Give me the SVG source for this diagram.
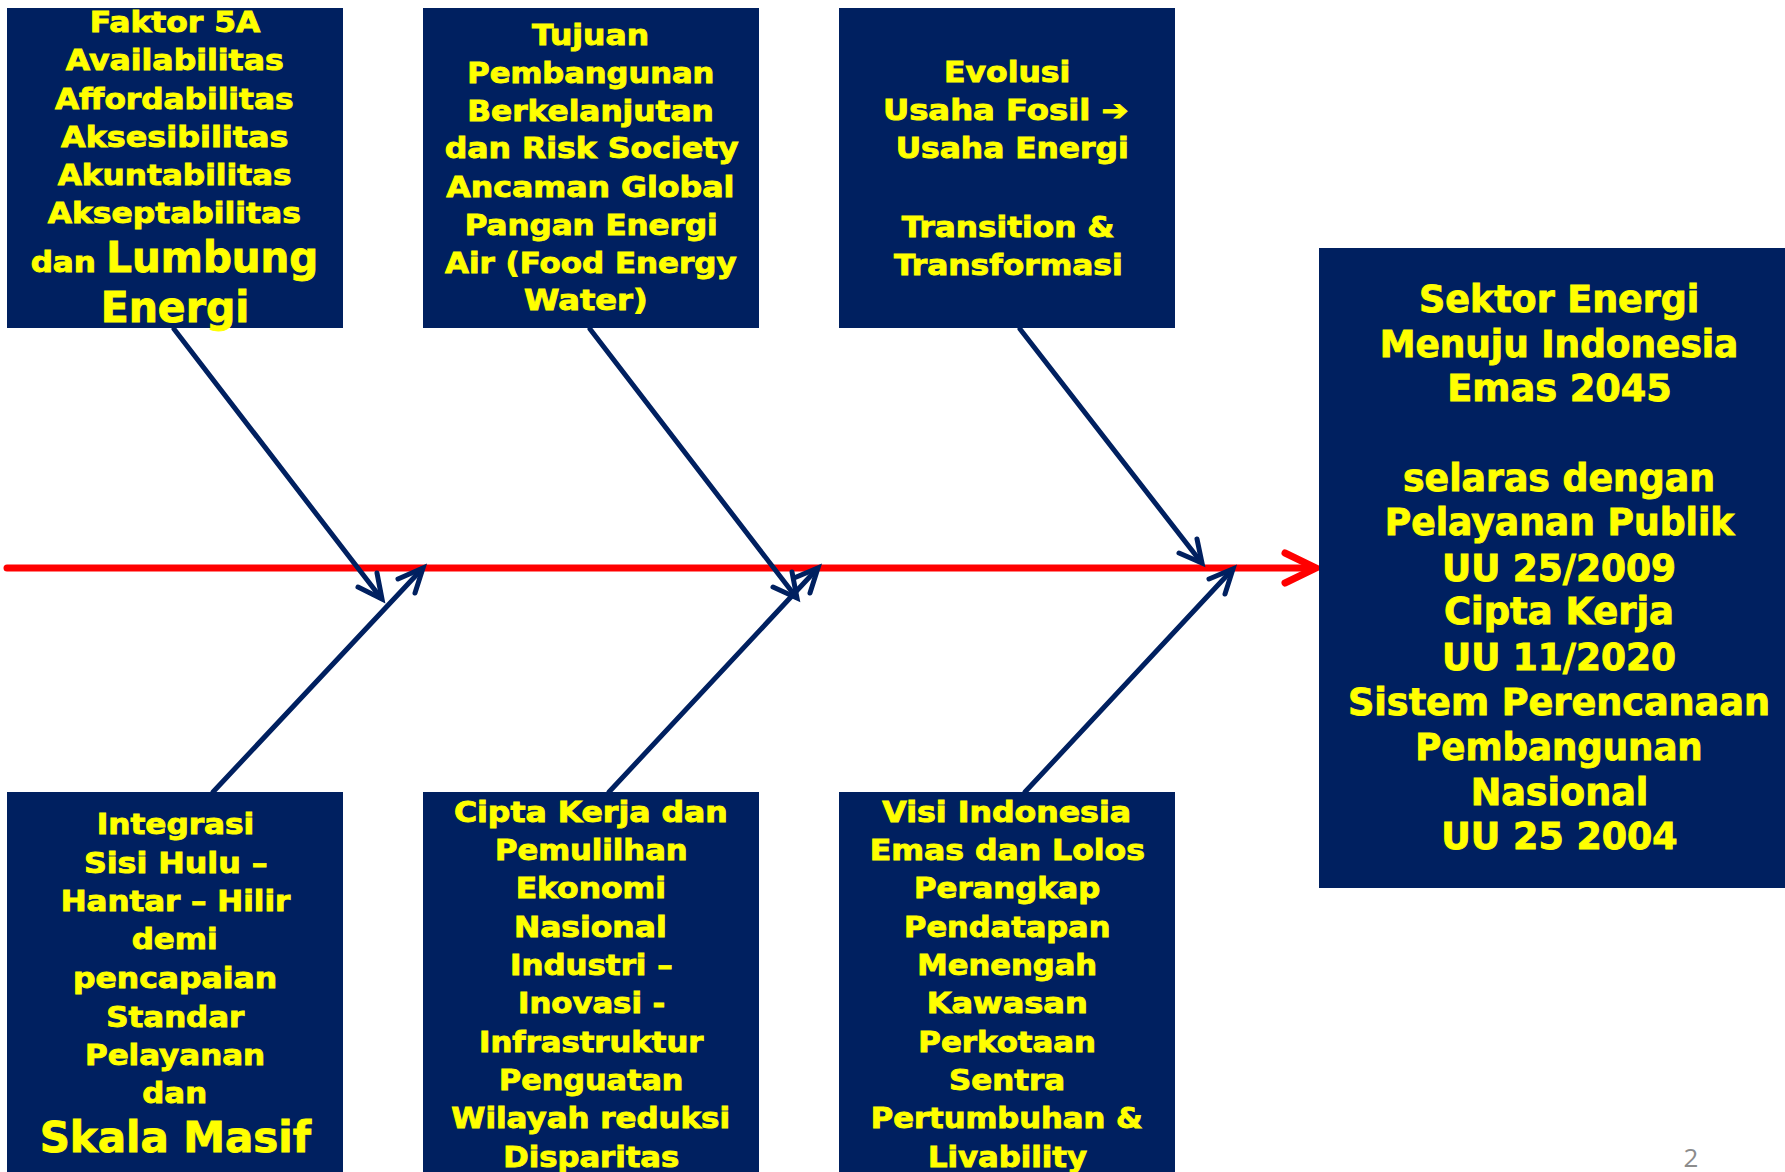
<svg xmlns="http://www.w3.org/2000/svg" width="1785" height="1172" viewBox="0 0 1785 1172">
<style>
.box{fill:#002060}
text{font-family:"DejaVu Sans","Liberation Sans",sans-serif;font-weight:bold;fill:#FFFF00;stroke:#FFFF00;stroke-width:0.9;text-anchor:middle}
.s{font-size:28.5px}
.b{font-size:43px}
.m{font-size:37px}
.blue{stroke:#002060;stroke-width:5;fill:none;stroke-linecap:round;stroke-linejoin:miter}
.red{stroke:#FF0000;stroke-width:7;fill:none;stroke-linecap:round}
.pg{font-family:"Open Sans","Liberation Sans",sans-serif;font-weight:normal;font-size:26px;fill:#8C8C8C;stroke:none}
</style>
<rect width="1785" height="1172" fill="#FFFFFF"/>
<g id="connectors">
<line class="red" x1="7" y1="568" x2="1314" y2="568" stroke-linecap="butt"/>
<polyline class="red" points="1285,553 1316,568 1285,583" stroke-linejoin="miter"/>
<line class="blue" x1="174" y1="329" x2="381" y2="598"/>
<polyline class="blue" points="358,587 382,599 377,573"/>
<line class="blue" x1="590" y1="329" x2="796" y2="597"/>
<polyline class="blue" points="773,587 797,598 792,572"/>
<line class="blue" x1="1020" y1="329" x2="1201" y2="562"/>
<polyline class="blue" points="1179,553 1202,563 1197,539"/>
<line class="blue" x1="213" y1="792" x2="422" y2="569"/>
<polyline class="blue" points="398,579 423,568 415,593"/>
<line class="blue" x1="609" y1="792" x2="817" y2="569"/>
<polyline class="blue" points="794,578 818,568 810,593"/>
<line class="blue" x1="1025" y1="792" x2="1232" y2="570"/>
<polyline class="blue" points="1209,579 1233,569 1225,594"/>
</g>
<g id="node-faktor5a">
<rect class="box" x="7" y="8" width="336" height="320"/>
<text class="s" x="175" y="32.3" textLength="170.6" lengthAdjust="spacingAndGlyphs">Faktor 5A</text>
<text class="s" x="174.7" y="70" textLength="218" lengthAdjust="spacingAndGlyphs">Availabilitas</text>
<text class="s" x="174.3" y="109" textLength="238.7" lengthAdjust="spacingAndGlyphs">Affordabilitas</text>
<text class="s" x="174.7" y="146.7" textLength="227.3" lengthAdjust="spacingAndGlyphs">Aksesibilitas</text>
<text class="s" x="174.7" y="185" textLength="234" lengthAdjust="spacingAndGlyphs">Akuntabilitas</text>
<text class="s" x="174.3" y="223.3" textLength="253.3" lengthAdjust="spacingAndGlyphs">Akseptabilitas</text>
<text class="s" x="63.3" y="271.7" textLength="65.3" lengthAdjust="spacingAndGlyphs">dan</text>
<text class="b" x="212.3" y="271.7" textLength="212" lengthAdjust="spacingAndGlyphs">Lumbung</text>
<text class="b" x="175" y="321.7" textLength="148.6" lengthAdjust="spacingAndGlyphs">Energi</text>
</g>
<g id="node-tujuan">
<rect class="box" x="423" y="8" width="336" height="320"/>
<text class="s" x="590.5" y="45" textLength="117" lengthAdjust="spacingAndGlyphs">Tujuan</text>
<text class="s" x="590.8" y="82.7" textLength="247" lengthAdjust="spacingAndGlyphs">Pembangunan</text>
<text class="s" x="590.5" y="120.7" textLength="246.4" lengthAdjust="spacingAndGlyphs">Berkelanjutan</text>
<text class="s" x="591.7" y="158.3" textLength="294" lengthAdjust="spacingAndGlyphs">dan Risk Society</text>
<text class="s" x="590.3" y="196.7" textLength="288" lengthAdjust="spacingAndGlyphs">Ancaman Global</text>
<text class="s" x="591.2" y="235" textLength="253" lengthAdjust="spacingAndGlyphs">Pangan Energi</text>
<text class="s" x="590.8" y="273.3" textLength="291.7" lengthAdjust="spacingAndGlyphs">Air (Food Energy</text>
<text class="s" x="585.8" y="310" textLength="123.7" lengthAdjust="spacingAndGlyphs">Water)</text>
</g>
<g id="node-evolusi">
<rect class="box" x="839" y="8" width="336" height="320"/>
<text class="s" x="1007.2" y="82.3" textLength="126.3" lengthAdjust="spacingAndGlyphs">Evolusi</text>
<text class="s" x="1005.8" y="120" textLength="245.7" lengthAdjust="spacingAndGlyphs">Usaha Fosil ➔</text>
<text class="s" x="1012.2" y="158.3" textLength="233" lengthAdjust="spacingAndGlyphs">Usaha Energi</text>
<text class="s" x="1008" y="236.7" textLength="212.6" lengthAdjust="spacingAndGlyphs">Transition &amp;</text>
<text class="s" x="1008.3" y="275" textLength="228.7" lengthAdjust="spacingAndGlyphs">Transformasi</text>
</g>
<g id="node-sektor-energi">
<rect class="box" x="1319" y="248" width="466" height="640"/>
<text class="m" x="1559.2" y="311.7" textLength="280.3" lengthAdjust="spacingAndGlyphs">Sektor Energi</text>
<text class="m" x="1559" y="357" textLength="358.6" lengthAdjust="spacingAndGlyphs">Menuju Indonesia</text>
<text class="m" x="1559.5" y="401" textLength="224.4" lengthAdjust="spacingAndGlyphs">Emas 2045</text>
<text class="m" x="1559" y="491" textLength="312" lengthAdjust="spacingAndGlyphs">selaras dengan</text>
<text class="m" x="1559.5" y="535.3" textLength="349.6" lengthAdjust="spacingAndGlyphs">Pelayanan Publik</text>
<text class="m" x="1559" y="580.5" textLength="234" lengthAdjust="spacingAndGlyphs">UU 25/2009</text>
<text class="m" x="1559" y="624" textLength="230" lengthAdjust="spacingAndGlyphs">Cipta Kerja</text>
<text class="m" x="1559" y="670" textLength="234" lengthAdjust="spacingAndGlyphs">UU 11/2020</text>
<text class="m" x="1559" y="715" textLength="422" lengthAdjust="spacingAndGlyphs">Sistem Perencanaan</text>
<text class="m" x="1559" y="760" textLength="287.4" lengthAdjust="spacingAndGlyphs">Pembangunan</text>
<text class="m" x="1559.5" y="805" textLength="177.6" lengthAdjust="spacingAndGlyphs">Nasional</text>
<text class="m" x="1559.5" y="849.3" textLength="236.4" lengthAdjust="spacingAndGlyphs">UU 25 2004</text>
</g>
<g id="node-integrasi">
<rect class="box" x="7" y="792" width="336" height="380"/>
<text class="s" x="175.5" y="834.3" textLength="157.6" lengthAdjust="spacingAndGlyphs">Integrasi</text>
<text class="s" x="175.8" y="872.7" textLength="183.7" lengthAdjust="spacingAndGlyphs">Sisi Hulu –</text>
<text class="s" x="175.5" y="911" textLength="229.6" lengthAdjust="spacingAndGlyphs">Hantar – Hilir</text>
<text class="s" x="174.7" y="949.3" textLength="86" lengthAdjust="spacingAndGlyphs">demi</text>
<text class="s" x="175" y="988.3" textLength="204" lengthAdjust="spacingAndGlyphs">pencapaian</text>
<text class="s" x="175.3" y="1026.7" textLength="138" lengthAdjust="spacingAndGlyphs">Standar</text>
<text class="s" x="175" y="1065" textLength="180" lengthAdjust="spacingAndGlyphs">Pelayanan</text>
<text class="s" x="174.7" y="1103.3" textLength="64.7" lengthAdjust="spacingAndGlyphs">dan</text>
<text class="b" x="175.3" y="1151.7" textLength="271.3" lengthAdjust="spacingAndGlyphs">Skala Masif</text>
</g>
<g id="node-cipta-kerja">
<rect class="box" x="423" y="792" width="336" height="380"/>
<text class="s" x="590.8" y="821.7" textLength="273.7" lengthAdjust="spacingAndGlyphs">Cipta Kerja dan</text>
<text class="s" x="591.3" y="860" textLength="192.7" lengthAdjust="spacingAndGlyphs">Pemulilhan</text>
<text class="s" x="590.8" y="898.3" textLength="150.3" lengthAdjust="spacingAndGlyphs">Ekonomi</text>
<text class="s" x="590.3" y="936.7" textLength="152.7" lengthAdjust="spacingAndGlyphs">Nasional</text>
<text class="s" x="591.3" y="975" textLength="162.7" lengthAdjust="spacingAndGlyphs">Industri –</text>
<text class="s" x="591.7" y="1013.3" textLength="147.3" lengthAdjust="spacingAndGlyphs">Inovasi -</text>
<text class="s" x="591.2" y="1051.7" textLength="224.3" lengthAdjust="spacingAndGlyphs">Infrastruktur</text>
<text class="s" x="591.2" y="1090" textLength="184.3" lengthAdjust="spacingAndGlyphs">Penguatan</text>
<text class="s" x="590.7" y="1128.3" textLength="278.7" lengthAdjust="spacingAndGlyphs">Wilayah reduksi</text>
<text class="s" x="591.3" y="1166.7" textLength="176" lengthAdjust="spacingAndGlyphs">Disparitas</text>
</g>
<g id="node-visi">
<rect class="box" x="839" y="792" width="336" height="380"/>
<text class="s" x="1006.7" y="821.7" textLength="248.7" lengthAdjust="spacingAndGlyphs">Visi Indonesia</text>
<text class="s" x="1007.3" y="860" textLength="275.3" lengthAdjust="spacingAndGlyphs">Emas dan Lolos</text>
<text class="s" x="1007.2" y="898.3" textLength="186.3" lengthAdjust="spacingAndGlyphs">Perangkap</text>
<text class="s" x="1007.2" y="936.7" textLength="206.3" lengthAdjust="spacingAndGlyphs">Pendatapan</text>
<text class="s" x="1007.2" y="975" textLength="179.7" lengthAdjust="spacingAndGlyphs">Menengah</text>
<text class="s" x="1007.2" y="1013.3" textLength="161" lengthAdjust="spacingAndGlyphs">Kawasan</text>
<text class="s" x="1007.2" y="1051.7" textLength="177.7" lengthAdjust="spacingAndGlyphs">Perkotaan</text>
<text class="s" x="1007" y="1090" textLength="116" lengthAdjust="spacingAndGlyphs">Sentra</text>
<text class="s" x="1006.7" y="1128.3" textLength="272" lengthAdjust="spacingAndGlyphs">Pertumbuhan &amp;</text>
<text class="s" x="1007.5" y="1166.7" textLength="159" lengthAdjust="spacingAndGlyphs">Livability</text>
</g>
<text class="pg" x="1691" y="1167">2</text>
</svg>
